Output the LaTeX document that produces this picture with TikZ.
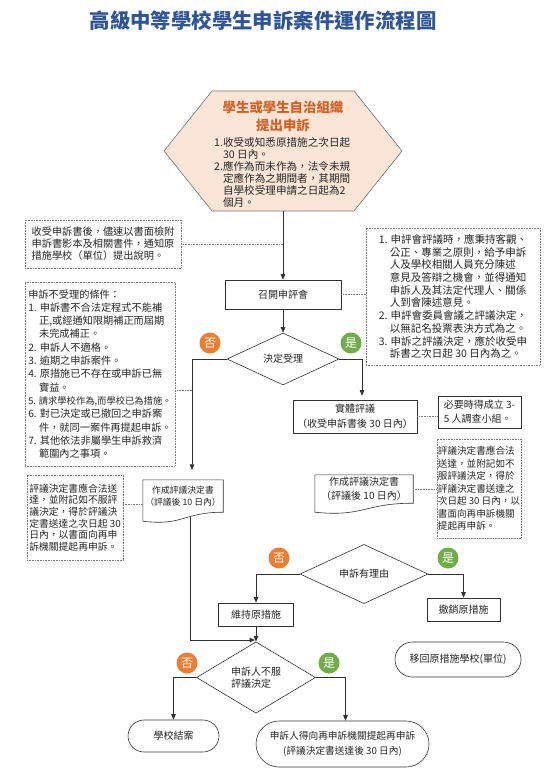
\documentclass[tikz,border=0pt]{standalone}
\usepackage{fontspec}
\setmainfont{Noto Sans CJK TC}
\usetikzlibrary{arrows.meta,shapes.geometric,shapes.misc}
\definecolor{titleblue}{RGB}{47,85,151}
\definecolor{hexfill}{RGB}{251,229,214}
\definecolor{hexorange}{RGB}{208,98,38}
\definecolor{noorange}{RGB}{237,125,49}
\definecolor{yesgreen}{RGB}{112,173,71}
\definecolor{linegray}{RGB}{50,50,50}
\definecolor{notegray}{RGB}{120,120,120}
\definecolor{textgray}{RGB}{38,38,38}
\newcommand\fs[2]{\fontsize{#1}{#2}\selectfont}
\newcommand\ind{\hphantom{1.~}}
\newcommand\indb{\hphantom{1.}}
\newcommand\docshape[1]{\draw[docline] (#1.north west) -- (#1.north east) -- (#1.south east) .. controls (#1.south) and ([yshift=-14pt]#1.south) .. ([yshift=-9pt]#1.south west) -- cycle;}
\begin{document}
\begin{tikzpicture}[x=1pt,y=-1pt,
  base/.style={inner sep=1pt, text=textgray, align=center},
  box/.style={base, rectangle, draw=linegray, line width=0.6pt, fill=white},
  note/.style={base, rectangle, draw=notegray, densely dotted, line width=0.6pt, align=left},
  decision/.style={base, diamond, draw=linegray, line width=0.6pt, inner sep=0pt},
  term/.style={base, rounded rectangle, draw=linegray, line width=0.6pt},
  docnode/.style={base, rectangle, draw=none},
  docline/.style={draw=linegray, line width=0.6pt},
  conn/.style={draw=linegray, line width=0.7pt},
  arr/.style={conn, -{Triangle[length=5.5pt,width=4.5pt]}},
  dline/.style={draw=notegray, densely dotted, line width=0.6pt},
  circ/.style={circle, minimum size=21pt, inner sep=0pt, text=white, font=\fs{12}{12}},
  nocirc/.style={circ, fill=noorange},
  yescirc/.style={circ, fill=yesgreen}
]
\fill[white] (0,0) rectangle (548,778);
\useasboundingbox (0,0) rectangle (548,778);

% title
\node[font=\fs{20.4}{24}\bfseries, text=titleblue] (title) at (263,21) {高級中等學校學生申訴案件運作流程圖};

% hexagon start
\path[draw=notegray, fill=hexfill, line width=0.6pt] (164,151) -- (212,91) -- (354,91) -- (402,151) -- (354,211) -- (212,211) -- cycle;
\node[minimum width=238pt, minimum height=120pt, inner sep=0pt] (hex) at (283,151) {};
\node[base, font=\fs{13.4}{18}\bfseries, text=hexorange] (hextitle) at (283,116) {學生或學生自治組織\\提出申訴};
\node[base, align=left, anchor=west, inner sep=0pt, font=\fs{10.6}{12}] (hexlist) at (214,172) {1.收受或知悉原措施之次日起\\\indb 30 日內。\\2.應作為而未作為，法令未規\\\indb 定應作為之期間者，其期間\\\indb 自學校受理申請之日起為2\\\indb 個月。};

% notes top
\node[note, minimum width=156pt, minimum height=48pt, font=\fs{10.2}{12}] (leftnote1) at (103,244) {收受申訴書後，儘速以書面檢附\\申訴書影本及相關書件，通知原\\措施學校（單位）提出說明。};
\node[note, minimum width=174pt, minimum height=137pt, font=\fs{10.5}{12.7}] (rightnote) at (453,296.5) {1. 申評會評議時，應秉持客觀、\\\ind 公正、專業之原則，給予申訴\\\ind 人及學校相關人員充分陳述\\\ind 意見及答辯之機會，並得通知\\\ind 申訴人及其法定代理人、關係\\\ind 人到會陳述意見。\\2. 申評會委員會議之評議決定，\\\ind 以無記名投票表決方式為之。\\3. 申訴之評議決定，應於收受申\\\ind 訴書之次日起 30 日內為之。};

% meeting
\node[box, minimum width=116pt, minimum height=29pt, font=\fs{10}{12}] (meet) at (283,294.5) {召開申評會};

% decision 1
\node[decision, minimum width=112pt, minimum height=52pt, font=\fs{10}{12}] (d1) at (283,359) {決定受理};
\node[nocirc] (no1) at (210,343) {否};
\node[yescirc] (yes1) at (351,343) {是};

% reject conditions
\node[note, minimum width=150pt, minimum height=184pt, font=\fs{10.2}{13.3}] (rejnote) at (100,374) {申訴不受理的條件：\\1. 申訴書不合法定程式不能補\\\ind 正,或經通知限期補正而屆期\\\ind 未完成補正。\\2. 申訴人不適格。\\3. 逾期之申訴案件。\\4. 原措施已不存在或申訴已無\\\ind 實益。\\{\fs{9.3}{13.3}5. 請求學校作為,而學校已為措施。}\\6. 對已決定或已撤回之申訴案\\\ind 件，就同一案件再提起申訴。\\7. 其他依法非屬學生申訴救濟\\\ind 範圍內之事項。};

% substantive review
\node[box, minimum width=124pt, minimum height=33pt, font=\fs{10}{15}] (substantive) at (355,416.5) {實體評議\\（收受申訴書後 30 日內）};
\node[box, align=left, minimum width=83pt, minimum height=32pt, font=\fs{10}{14}] (need) at (479.5,412) {必要時得成立 3-\\5 人調查小組。};

% decision documents
\node[docnode, minimum width=98pt, minimum height=28pt, font=\fs{10}{14}] (docR) at (364,489) {作成評議決定書\\（評議後 10 日內）};
\docshape{docR}
\node[note, minimum width=84pt, minimum height=99pt, font=\fs{9.6}{12.5}] (rightnote2) at (479,488.5) {評議決定書應合法\\送達，並附記如不\\服評議決定，得於\\評議決定書送達之\\次日起 30 日內，以\\書面向再申訴機關\\提起再申訴。};

\node[docnode, minimum width=80pt, minimum height=32pt, font=\fs{8.8}{12}] (docL) at (183,496) {作成評議決定書\\（評議後 10 日內）};
\docshape{docL}
\node[note, minimum width=96pt, minimum height=85pt, font=\fs{9.8}{11.6}] (leftnote2) at (75,517.5) {評議決定書應合法送\\達，並附記如不服評\\議決定，得於評議決\\定書送達之次日起 30\\日內，以書面向再申\\訴機關提起再申訴。};

% decision 2
\node[decision, minimum width=128pt, minimum height=46pt, font=\fs{10}{12}] (d2) at (364,574) {申訴有理由};
\node[nocirc] (no2) at (279,558) {否};
\node[yescirc] (yes2) at (448,558) {是};
\node[box, minimum width=75pt, minimum height=23pt, font=\fs{10}{12}] (keep) at (256,614.5) {維持原措施};
\node[box, minimum width=73pt, minimum height=23pt, font=\fs{10}{12}] (revoke) at (463.5,609.5) {撤銷原措施};
\node[term, minimum width=128pt, minimum height=35pt, font=\fs{10}{12}] (returnbox) at (458,659.5) {移回原措施學校(單位)};

% decision 3
\node[decision, align=left, minimum width=119pt, minimum height=51pt, font=\fs{10}{12}] (d3) at (256,677.5) {申訴人不服\\評議決定};
\node[nocirc] (no3) at (187,663) {否};
\node[yescirc] (yes3) at (329,663) {是};
\node[term, minimum width=93pt, minimum height=32pt, font=\fs{10}{12}] (close) at (173.5,736) {學校結案};
\node[term, minimum width=175pt, minimum height=46pt, font=\fs{9.7}{15}] (appeal) at (342.5,744) {申訴人得向再申訴機關提起再申訴\\(評議決定書送達後 30 日內)};

% connectors
\draw[arr] (hex.south) -- (meet.north);
\draw[dline] (leftnote1.east) -- (leftnote1.east -| hex.south);
\draw[dline] (meet.east) -- (meet.east -| rightnote.west);
\draw[arr] (meet.south) -- (d1.north);
\coordinate (turnL) at (192,359);
\draw[arr, shorten >=10pt] (d1.west) -- (turnL) -- (turnL |- docL.north);
\coordinate (r1) at ([yshift=-16pt]rejnote.east);
\draw[dline] (r1) -- (r1 -| turnL);
\coordinate (turnR) at (362,359);
\draw[arr, shorten >=4pt] (d1.east) -- (turnR) -- (turnR |- substantive.north);
\draw[dline] (substantive.east) -- (substantive.east -| need.west);
\draw[dline] (docR.east) -- (docR.east -| rightnote2.west);
\coordinate (l1) at ([yshift=-8pt]docL.west);
\draw[dline] (l1) -- (l1 -| leftnote2.east);
\coordinate (join) at (255,640);
\draw[arr] ([xshift=7pt,yshift=-5pt]docL.south) |- (join);
\draw[arr] (keep.south) -- (d3.north);
\draw[arr] (d2.west) -| (keep.north);
\draw[arr] (d2.east) -| (revoke.north);
\draw[arr] (d3.west) -| (close.north);
\draw[arr] (d3.east) -| ([xshift=3pt]appeal.north);
\end{tikzpicture}
\end{document}
